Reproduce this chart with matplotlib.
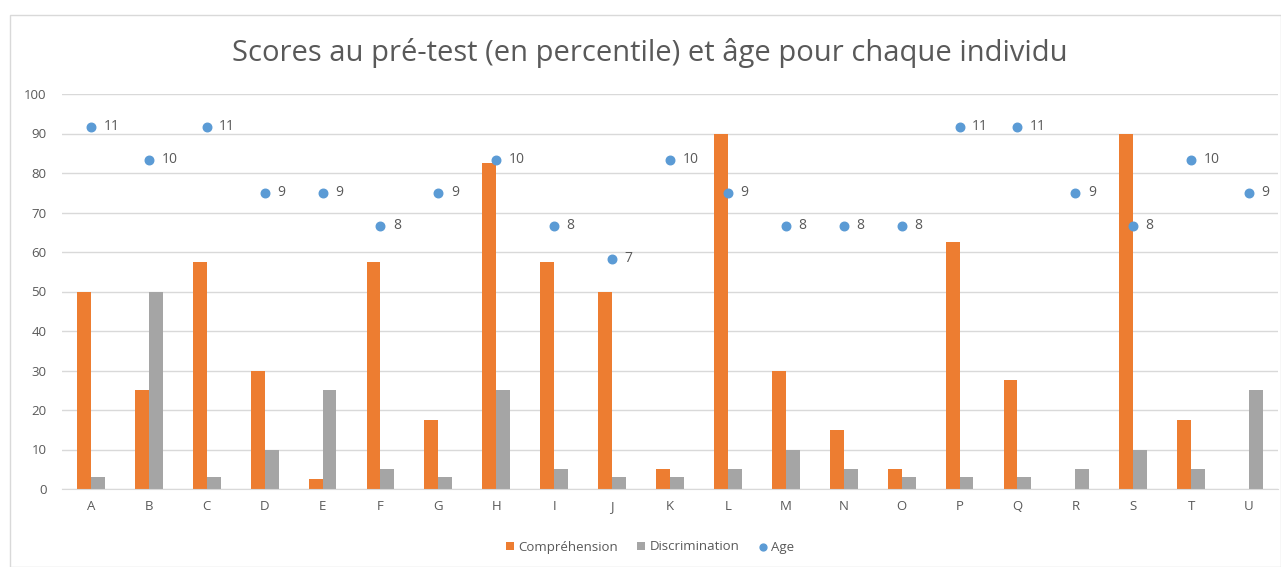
import numpy as np
import matplotlib.pyplot as plt
from matplotlib.patches import Rectangle

# Data
individus = list("ABCDEFGHIJKLMNOPQRSTU")
comprehension = [50, 25, 57.5, 30, 2.5, 57.5, 17.5, 82.5, 57.5, 50, 5, 90, 30, 15, 5, 62.5, 27.5, 0, 90, 17.5, 0]
discrimination = [3, 50, 3, 10, 25, 5, 3, 25, 5, 3, 3, 5, 10, 5, 3, 3, 3, 5, 10, 5, 25]
age = [11, 10, 11, 9, 9, 8, 9, 10, 8, 7, 10, 9, 8, 8, 8, 11, 11, 9, 8, 10, 9]

orange = '#ED7D31'
grey = '#A5A5A5'
blue = '#5B9BD5'
txt = '#595959'

plt.rcParams['font.family'] = ['Open Sans', 'DejaVu Sans']

fig = plt.figure(figsize=(12.81, 5.67), dpi=100)
fig.patches.append(Rectangle((10 / 1281, 0), 1 - 10 / 1281, 1 - 15 / 567, transform=fig.transFigure,
                             fill=False, edgecolor='#D9D9D9', linewidth=1))

ax = fig.add_axes([62 / 1281, 1 - 489 / 567, (1278 - 62) / 1281, (489 - 94) / 567])
x = np.arange(len(individus))
w = 0.24
ax.bar(x - w / 2, comprehension, w, color=orange, label='Compréhension', zorder=2)
ax.bar(x + w / 2, discrimination, w, color=grey, label='Discrimination', zorder=2)

ax.set_ylim(0, 100)
ax.set_xlim(-0.5, len(individus) - 0.5)
ax.set_yticks(range(0, 101, 10))
ax.yaxis.grid(True, color='#D9D9D9', linewidth=1, zorder=0)
ax.set_xticks(x)
ax.set_xticklabels(individus)
ax.tick_params(axis='both', length=0, colors=txt, labelsize=9.5)
ax.tick_params(axis='x', pad=8)
ax.tick_params(axis='y', pad=11)
for s in ['top', 'right', 'left']:
    ax.spines[s].set_visible(False)
ax.spines['bottom'].set_color('#D9D9D9')

# Age on a hidden secondary axis (0-12)
ax2 = ax.twinx()
ax2.set_ylim(0, 12)
ax2.scatter(x, age, s=38, color=blue, label='Age', zorder=3)
for xi, a in zip(x, age):
    ax2.annotate(str(a), (xi, a), xytext=(9, 0), textcoords='offset points',
                 va='center', ha='left', color=txt, fontsize=10)
ax2.axis('off')

fig.suptitle('Scores au pré-test (en percentile) et âge pour chaque individu',
             x=650 / 1281, y=1 - 53 / 567, va='center', fontsize=21, color=txt)

h1, l1 = ax.get_legend_handles_labels()
h2, l2 = ax2.get_legend_handles_labels()
fig.legend(h1 + h2, l1 + l2, loc='center', bbox_to_anchor=(650 / 1281, 1 - 547 / 567), ncol=3,
           frameon=False, fontsize=9.5, labelcolor=txt, handlelength=0.6, handleheight=0.6,
           handletextpad=0.3, columnspacing=1.5, markerscale=0.8)

fig.savefig('out.png', dpi=100)
